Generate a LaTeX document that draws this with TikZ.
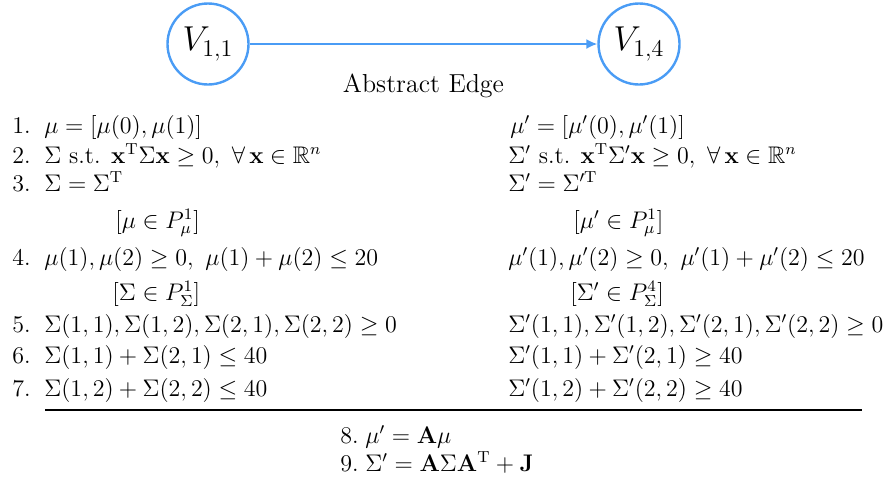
\documentclass[tikz,border=0pt]{standalone}
\definecolor{nodeblue}{RGB}{74, 156, 245}
\usepackage{amsmath, amssymb}
\usepackage{tikz}
\usetikzlibrary{arrows.meta, positioning}

\begin{document}
\begin{tikzpicture}[x=0.5pt, y=-0.5pt, font=\fontsize{12}{14}\selectfont,
    vertex/.style={draw=nodeblue, circle, line width=1.2pt, minimum size=40.5pt, inner sep=0pt, font=\fontsize{17}{20}\selectfont},
    eq/.style={anchor=base west, inner sep=0pt}]
        \useasboundingbox (0,0) rectangle (886,477);

        \node[vertex] (v11) at (208,44) {$V_{1,1}$};
        \node[vertex] (v14) at (639,44) {$V_{1,4}$};
        \draw[-{Latex[length=5.5pt, width=5pt]}, nodeblue, line width=0.9pt] (v11) -- node[below=11pt, black, font=\fontsize{13}{15}\selectfont] (edgelbl) {Abstract Edge} (v14);

        % left column
        \node[eq] (l1) at (12,133) {\makebox[16pt][l]{1.}$\mu=[\mu(0),\mu(1)]$};
        \node[eq] (l2) at (12,163) {\makebox[16pt][l]{2.}$\Sigma\text{ s.t. }\mathbf{x}^{\mathrm{T}}\Sigma\mathbf{x}\geq 0,\ \forall\,\mathbf{x}\in\mathbb{R}^{n}$};
        \node[eq] (l3) at (12,191) {\makebox[16pt][l]{3.}$\Sigma=\Sigma^{\mathrm{T}}$};
        \node[eq] (lmu) at (115,228) {$[\mu\in P_{\mu}^{1}]$};
        \node[eq] (l4) at (12,265) {\makebox[16pt][l]{4.}$\mu(1),\mu(2)\geq 0,\ \mu(1)+\mu(2)\leq 20$};
        \node[eq] (lsig) at (112,300) {$[\Sigma\in P_{\Sigma}^{1}]$};
        \node[eq] (l5) at (12,332) {\makebox[16pt][l]{5.}$\Sigma(1,1),\Sigma(1,2),\Sigma(2,1),\Sigma(2,2)\geq 0$};
        \node[eq] (l6) at (12,363) {\makebox[16pt][l]{6.}$\Sigma(1,1)+\Sigma(2,1)\leq 40$};
        \node[eq] (l7) at (12,396) {\makebox[16pt][l]{7.}$\Sigma(1,2)+\Sigma(2,2)\leq 40$};

        % right column
        \node[eq] (r1) at (510,133) {$\mu'=[\mu'(0),\mu'(1)]$};
        \node[eq] (r2) at (508,163) {$\Sigma'\text{ s.t. }\mathbf{x}^{\mathrm{T}}\Sigma'\mathbf{x}\geq 0,\ \forall\,\mathbf{x}\in\mathbb{R}^{n}$};
        \node[eq] (r3) at (508,191) {$\Sigma'=\Sigma'^{\mathrm{T}}$};
        \node[eq] (rmu) at (573,228) {$[\mu'\in P_{\mu}^{1}]$};
        \node[eq] (r4) at (508,265) {$\mu'(1),\mu'(2)\geq 0,\ \mu'(1)+\mu'(2)\leq 20$};
        \node[eq] (rsig) at (570,300) {$[\Sigma'\in P_{\Sigma}^{4}]$};
        \node[eq] (r5) at (508,332) {$\Sigma'(1,1),\Sigma'(1,2),\Sigma'(2,1),\Sigma'(2,2)\geq 0$};
        \node[eq] (r6) at (508,363) {$\Sigma'(1,1)+\Sigma'(2,1)\geq 40$};
        \node[eq] (r7) at (508,396) {$\Sigma'(1,2)+\Sigma'(2,2)\geq 40$};

        % separating rule and the edge update
        \coordinate (ruleL) at (45,410);
        \coordinate (ruleR) at (862,410);
        \draw[line width=1pt] (ruleL) -- (ruleR);

        \node[eq] (e8) at (340,443) {\makebox[12.5pt][l]{8.}$\mu'=\mathbf{A}\mu$};
        \node[eq] (e9) at (340,471) {\makebox[12.5pt][l]{9.}$\Sigma'=\mathbf{A}\Sigma\mathbf{A}^{\mathrm{T}}+\mathbf{J}$};
    \end{tikzpicture}
\end{document}
